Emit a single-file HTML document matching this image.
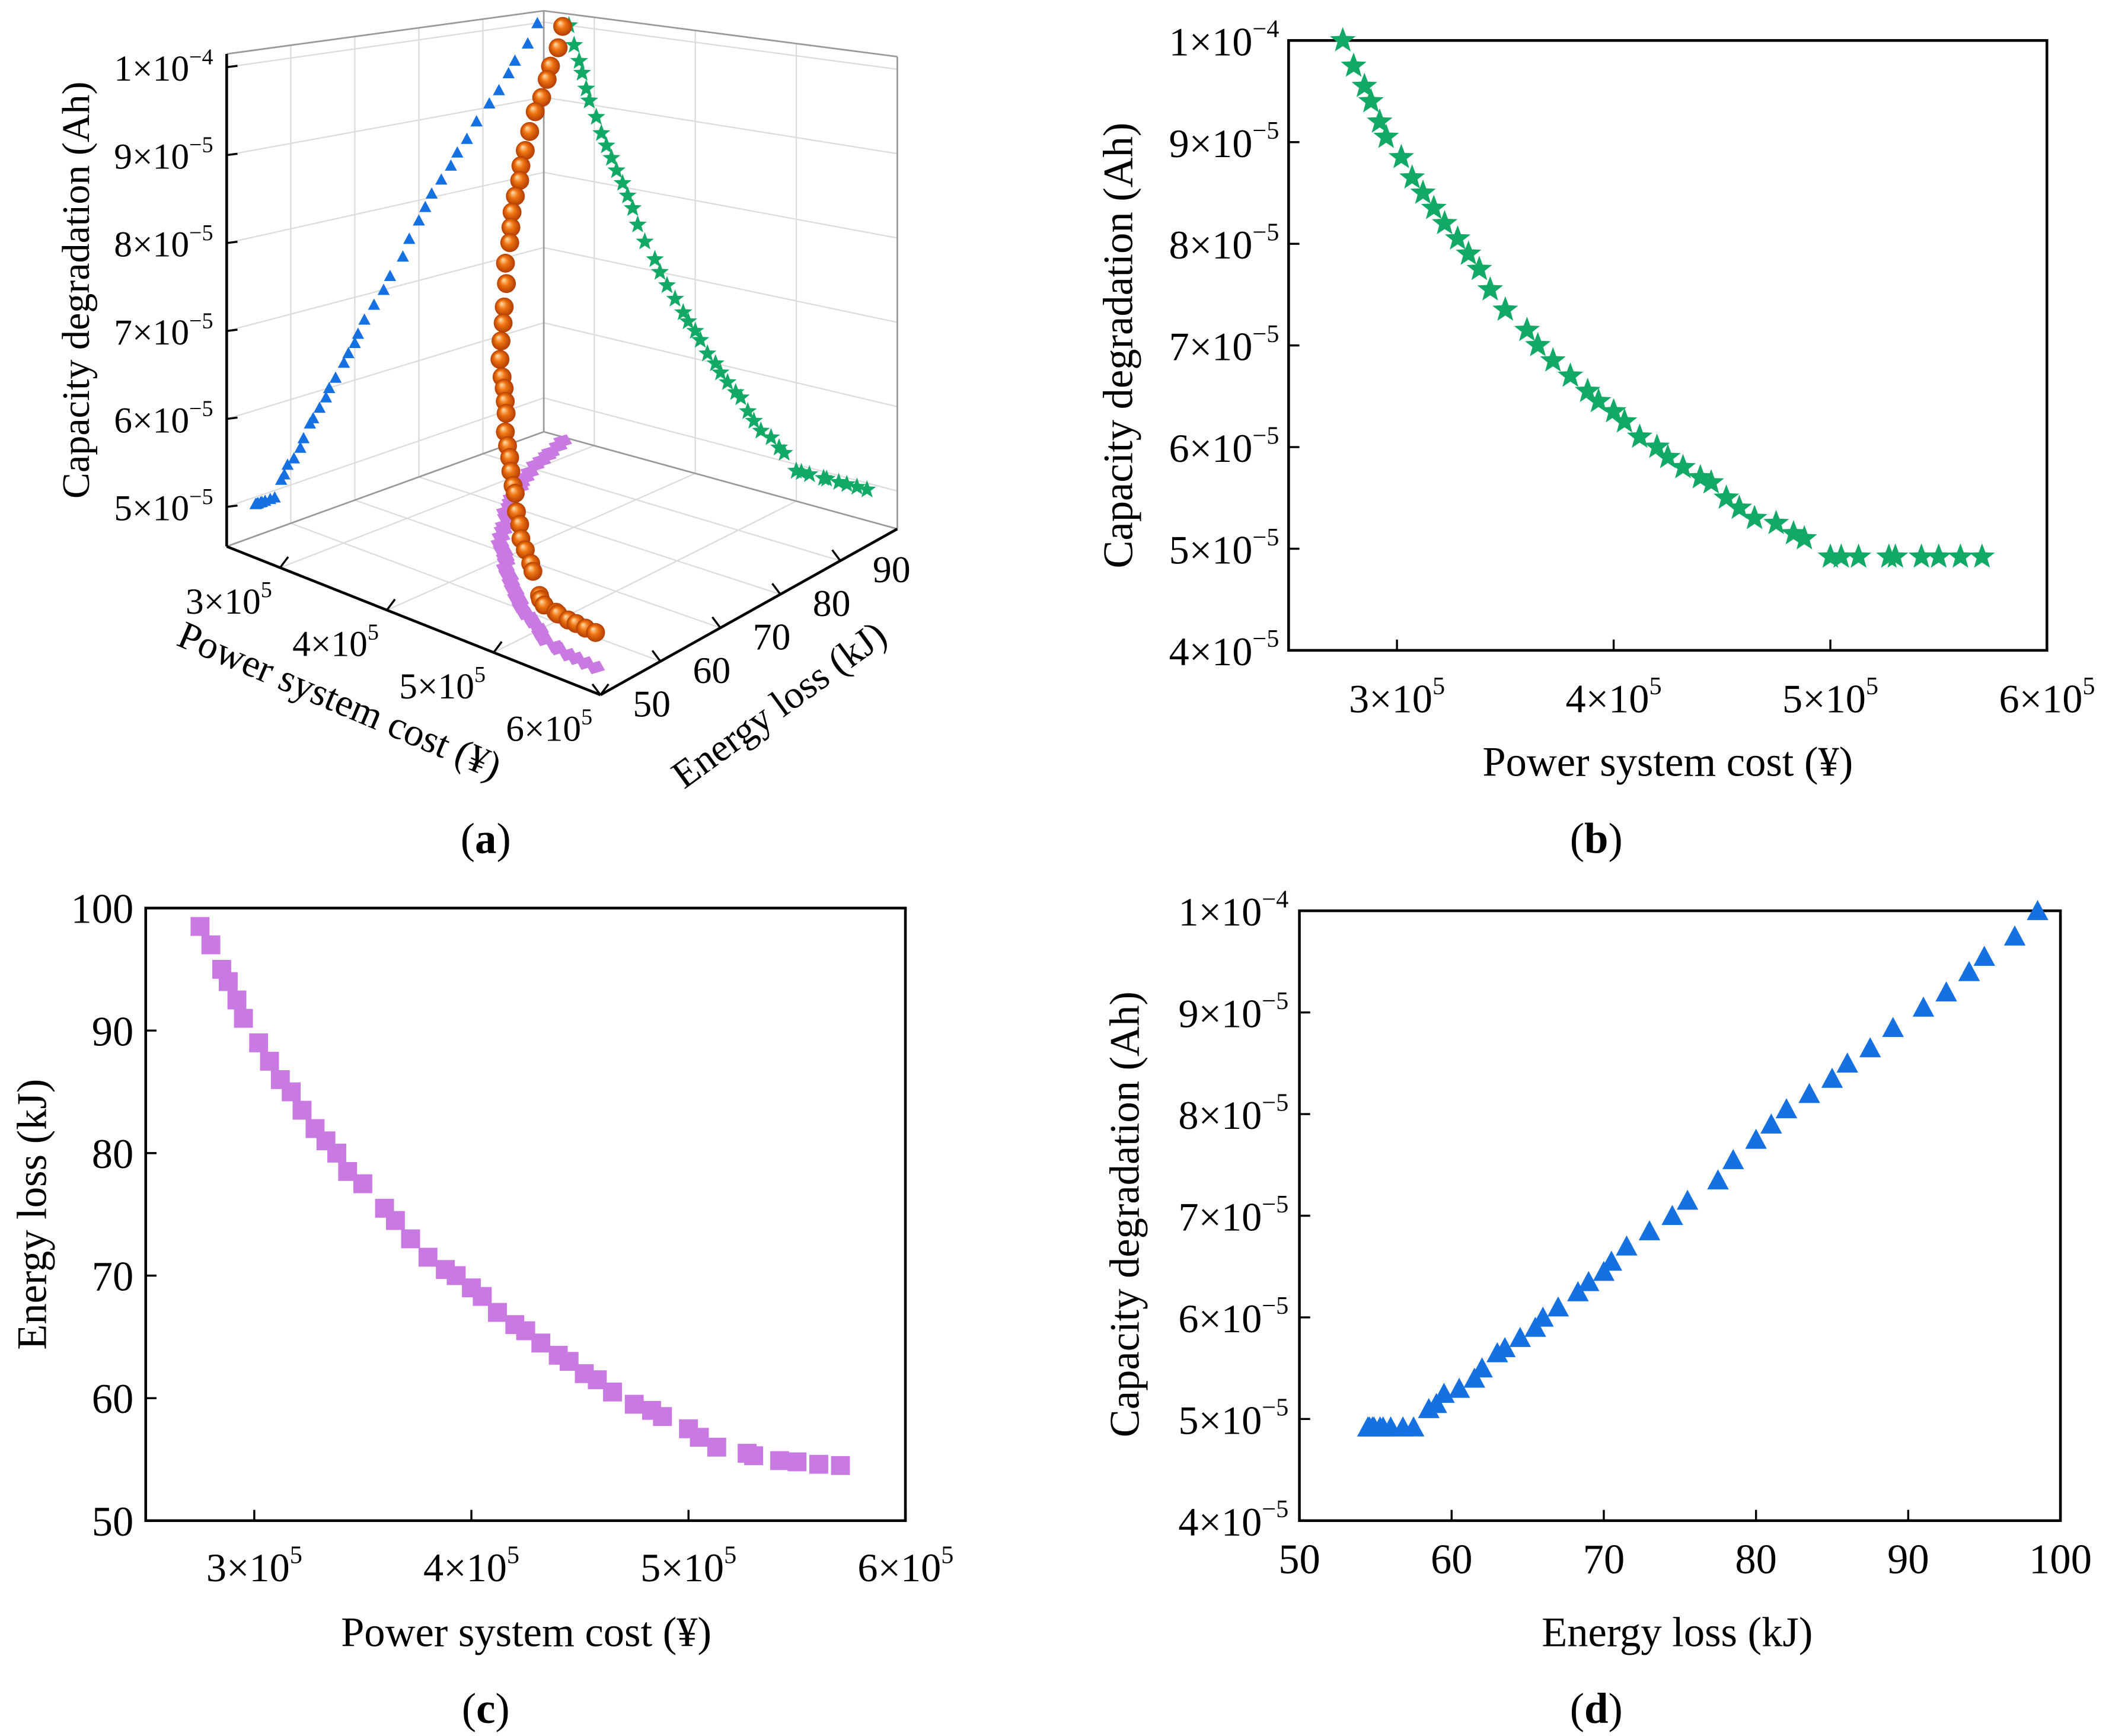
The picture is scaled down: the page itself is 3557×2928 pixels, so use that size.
<!DOCTYPE html>
<html><head><meta charset="utf-8">
<style>
html,body{margin:0;padding:0;background:#fff;}
svg{display:block;}
text{font-family:"Liberation Serif","Times New Roman",serif;}
</style></head>
<body>
<svg id="fig" width="3557" height="2928" viewBox="0 0 1563 1286.6" preserveAspectRatio="none" xmlns="http://www.w3.org/2000/svg" font-family="Liberation Serif, serif">
<defs>
<radialGradient id="sph" cx="0.5" cy="0.5" r="0.5" fx="0.35" fy="0.3">
<stop offset="0" stop-color="#ffe2b0"/><stop offset="0.45" stop-color="#f07412"/><stop offset="1" stop-color="#b03c00"/>
</radialGradient>
</defs>
<g id="pa"></g>
<g id="pb"></g>
<g id="pc"></g>
<g id="pd"></g>
</svg>
<script>
// Pareto set data: cost (x1e5 ¥), energy loss (kJ), capacity degradation (x1e-5 Ah)
const costVals = [2.75,2.8,2.85,2.88,2.92,2.95,3.02,3.07,3.12,3.17,3.22,3.28,3.33,3.38,3.43,3.5,3.6,3.65,3.72,3.8,3.88,3.93,4.0,4.05,4.12,4.2,4.25,4.32,4.4,4.45,4.52,4.58,4.65,4.75,4.83,4.88,5.0,5.05,5.13,5.27,5.3,5.42,5.5,5.6,5.7];
const capVals = [10.0,9.75,9.55,9.4,9.2,9.05,8.85,8.65,8.5,8.35,8.2,8.05,7.9,7.75,7.55,7.35,7.15,7.0,6.85,6.7,6.55,6.45,6.35,6.25,6.1,6.0,5.9,5.8,5.7,5.65,5.5,5.4,5.3,5.25,5.15,5.1,4.92,4.92,4.92,4.92,4.92,4.92,4.92,4.92,4.92];
const energyVals = [98.5,97,95,94,92.5,91,89,87.5,86,85,83.5,82,81,80,78.5,77.5,75.5,74.5,73,71.5,70.5,70,69,68.3,67,66,65.5,64.5,63.5,63,62,61.5,60.5,59.5,59,58.5,57.5,56.8,56,55.5,55.3,54.9,54.8,54.6,54.5];
const costTicks = [3,4,5,6];
const capTicks = [4,5,6,7,8,9,10];
const energyTicks = [50,60,70,80,90,100];
const capTicks3d = [5,6,7,8,9,10];
const energyTicks3d = [50,60,70,80,90];

const NS="http://www.w3.org/2000/svg";
const FF='"Liberation Serif", "Times New Roman", serif';
function mk(parent,tag,attrs){const e=document.createElementNS(NS,tag);for(const k in attrs)e.setAttribute(k,attrs[k]);
  if(tag==='text')e.setAttribute('font-family',FF);parent.appendChild(e);return e;}
function sci(parent,x,y,m,ex,anchor,size){
  const t=mk(parent,'text',{x:x,y:y,'text-anchor':anchor,'font-size':size});
  t.appendChild(document.createTextNode(m+'\u00d710'));
  const s=mk(t,'tspan',{dy:-size*0.45,'font-size':size*0.62});
  s.textContent=ex;
  return t;
}
function plain(parent,x,y,str,anchor,size,rot){
  const a={x:x,y:y,'text-anchor':anchor,'font-size':size};
  if(rot)a.transform='rotate('+rot+' '+x+' '+y+')';
  const t=mk(parent,'text',a);t.textContent=str;return t;
}
function star(parent,cx,cy,r,fill){
  let p=[];for(let i=0;i<10;i++){const rr=i%2?r*0.42:r;const a=-Math.PI/2+i*Math.PI/5;p.push((cx+rr*Math.cos(a)).toFixed(1)+','+(cy+rr*Math.sin(a)).toFixed(1));}
  return mk(parent,'polygon',{points:p.join(' '),fill:fill});
}
function tri(parent,cx,cy,s,fill){
  return mk(parent,'polygon',{points:(cx-s/2)+','+(cy+s*0.43)+' '+(cx+s/2)+','+(cy+s*0.43)+' '+cx+','+(cy-s*0.5),fill:fill});
}
function label(parent,x,y,letter){
  const t=mk(parent,'text',{x:x,y:y,'text-anchor':'middle','font-size':32});
  t.appendChild(document.createTextNode('('));
  const b=mk(t,'tspan',{'font-weight':'bold'});b.textContent=letter;
  t.appendChild(document.createTextNode(')'));
  return t;
}

// ---------- Panel b ----------
(function(){
const g=document.getElementById('pb');
const x=c=>955+(c-2.5)*160.6, y=z=>482-(z-4)*75.33;
const frame=mk(g,'rect',{x:955,y:30,width:562,height:452,fill:'none',stroke:'#000','stroke-width':2});

costTicks.forEach(c=>{mk(g,'line',{x1:x(c),x2:x(c),y1:482,y2:474,stroke:'#000','stroke-width':1.5});
  const t=sci(g,x(c),528,c,'5','middle',30);});
capTicks.forEach(z=>{mk(g,'line',{x1:955,x2:963,y1:y(z),y2:y(z),stroke:'#000','stroke-width':1.5});
  const t=sci(g,948,y(z)+11,z===10?1:z,z===10?'\u22124':'\u22125','end',30);});
costVals.forEach((c,i)=>{const s=star(g,x(c),y(capVals[i]),10,'#12a866');
  });
let t=plain(g,1236,575,'Power system cost (\u00a5)','middle',31);
t=plain(g,839,256,'Capacity degradation (Ah)','middle',31,-90);
t=label(g,1183,632,'b');
})();

// ---------- Panel c ----------
(function(){
const g=document.getElementById('pc');
const x=c=>108+(c-2.5)*160.9, y=e=>1127-(e-50)*9.08;
const frame=mk(g,'rect',{x:108,y:673,width:563,height:454,fill:'none',stroke:'#000','stroke-width':2});

costTicks.forEach(c=>{mk(g,'line',{x1:x(c),x2:x(c),y1:1127,y2:1119,stroke:'#000','stroke-width':1.5});
  const t=sci(g,x(c),1172,c,'5','middle',30);});
energyTicks.forEach(e=>{mk(g,'line',{x1:108,x2:116,y1:y(e),y2:y(e),stroke:'#000','stroke-width':1.5});
  const t=plain(g,99,y(e)+11,String(e),'end',31);});
costVals.forEach((c,i)=>{const r=mk(g,'rect',{x:x(c)-7,y:y(energyVals[i])-7,width:14,height:14,fill:'#c979e2'});
  });
let t=plain(g,390,1220,'Power system cost (\u00a5)','middle',31);
t=plain(g,34,900,'Energy loss (kJ)','middle',31,-90);
t=label(g,360,1277,'c');
})();

// ---------- Panel d ----------
(function(){
const g=document.getElementById('pd');
const x=e=>963+(e-50)*11.28, y=z=>1127-(z-4)*75.33;
const frame=mk(g,'rect',{x:963,y:675,width:564,height:452,fill:'none',stroke:'#000','stroke-width':2});

energyTicks.forEach(e=>{mk(g,'line',{x1:x(e),x2:x(e),y1:1127,y2:1119,stroke:'#000','stroke-width':1.5});
  const t=plain(g,x(e),1166,String(e),'middle',31);});
capTicks.forEach(z=>{mk(g,'line',{x1:963,x2:971,y1:y(z),y2:y(z),stroke:'#000','stroke-width':1.5});
  const t=sci(g,955,y(z)+11,z===10?1:z,z===10?'\u22124':'\u22125','end',30);});
energyVals.forEach((e,i)=>{const s=tri(g,x(e),y(capVals[i]),16,'#1570e2');
  });
let t=plain(g,1243,1220,'Energy loss (kJ)','middle',31);
t=plain(g,844,900,'Capacity degradation (Ah)','middle',31,-90);
t=label(g,1183,1277,'d');
})();

// ---------- Panel a (3D) ----------
(function(){
const g=document.getElementById('pa');
const C={L:[168,405,365],F:[445,515,400],R:[665,392,350],B:[403,320,312]};
function P(c,e,z){
  const u=(c-2.5)/3.5, v=(e-50)/49.5;
  const w=[(1-u)*(1-v),u*(1-v),u*v,(1-u)*v], K=[C.L,C.F,C.R,C.B];
  let X=0,Y=0,H=0;for(let i=0;i<4;i++){X+=w[i]*K[i][0];Y+=w[i]*K[i][1];H+=w[i]*K[i][2];}
  return [X,Y-(z-4.55)/5.6*H];
}
function ln(a,b,col,wd,name){const l=mk(g,'line',{x1:a[0],y1:a[1],x2:b[0],y2:b[1],stroke:col,'stroke-width':wd});
  return l;}
const ZMIN=4.55,ZMAX=10.15,EMAX=99.5;
const gc='#dcdcdc';
energyTicks3d.slice(1).forEach(e=>ln(P(2.5,e,ZMIN),P(2.5,e,ZMAX),gc,1,'grid-line'));
capTicks3d.forEach(z=>ln(P(2.5,50,z),P(2.5,EMAX,z),gc,1,'grid-line'));
costTicks.slice(0,3).forEach(c=>ln(P(c,EMAX,ZMIN),P(c,EMAX,ZMAX),gc,1,'grid-line'));
capTicks3d.forEach(z=>ln(P(2.5,EMAX,z),P(6,EMAX,z),gc,1,'grid-line'));
costTicks.slice(0,3).forEach(c=>ln(P(c,50,ZMIN),P(c,EMAX,ZMIN),gc,1,'grid-line'));
energyTicks3d.slice(1).forEach(e=>ln(P(2.5,e,ZMIN),P(6,e,ZMIN),gc,1,'grid-line'));
ln(P(2.5,EMAX,ZMIN),P(2.5,EMAX,ZMAX),'#999',1.2,'box-edge');
ln(P(2.5,50,ZMAX),P(2.5,EMAX,ZMAX),'#999',1.2,'box-edge');
ln(P(2.5,EMAX,ZMAX),P(6,EMAX,ZMAX),'#999',1.2,'box-edge');
ln(P(6,EMAX,ZMIN),P(6,EMAX,ZMAX),'#999',1.2,'box-edge');
ln(P(2.5,50,ZMIN),P(2.5,EMAX,ZMIN),'#999',1.2,'box-edge');
ln(P(2.5,EMAX,ZMIN),P(6,EMAX,ZMIN),'#999',1.2,'box-edge');
ln(P(2.5,50,ZMIN),P(2.5,50,ZMAX),'#000',2,'z-axis-3d');
ln(P(2.5,50,ZMIN),P(6,50,ZMIN),'#000',2,'cost-axis-3d');
ln(P(6,50,ZMIN),P(6,EMAX,ZMIN),'#000',2,'energy-axis-3d');
capTicks3d.forEach(z=>{const p=P(2.5,50,z);ln(p,[p[0]+8,p[1]-1],'#000',1.5,'z-tick');
  const t=sci(g,p[0]-10,p[1]+10,z===10?1:z,z===10?'\u22124':'\u22125','end',27);});
costTicks.forEach(c=>{const p=P(c,50,ZMIN);ln(p,[p[0]+6,p[1]-8],'#000',1.5,'cost-tick');
  const t=sci(g,p[0]-38,p[1]+34,c,'5','middle',27);});
energyTicks3d.forEach(e=>{const p=P(6,e,ZMIN);ln(p,[p[0]-6,p[1]-8],'#000',1.5,'energy-tick');
  const t=plain(g,p[0]+38,p[1]+16,String(e),'middle',28);});
costVals.forEach((c,i)=>{const p=P(c,energyVals[i],ZMIN);
  const r=mk(g,'polygon',{points:(p[0]-7)+','+(p[1]-2)+' '+(p[0]+3)+','+(p[1]-5)+' '+(p[0]+7)+','+(p[1]+2)+' '+(p[0]-3)+','+(p[1]+5),fill:'#c979e2'});
  });
energyVals.forEach((e,i)=>{const p=P(2.5,e,capVals[i]);const s=tri(g,p[0],p[1],9,'#1570e2');
  });
costVals.forEach((c,i)=>{const p=P(c,EMAX,capVals[i]);const s=star(g,p[0],p[1],7,'#12a866');
  });
costVals.forEach((c,i)=>{const p=P(c,energyVals[i],capVals[i]);
  const s=mk(g,'circle',{cx:p[0],cy:p[1],r:7,fill:'url(#sph)'});
  });
let t=plain(g,66,215,'Capacity degradation (Ah)','middle',29,-90);
t=plain(g,248,528,'Power system cost (\u00a5)','middle',29,23);
t=plain(g,583,530,'Energy loss (kJ)','middle',29,-36);
t=label(g,360,632,'a');
})();
</script>
</body></html>
